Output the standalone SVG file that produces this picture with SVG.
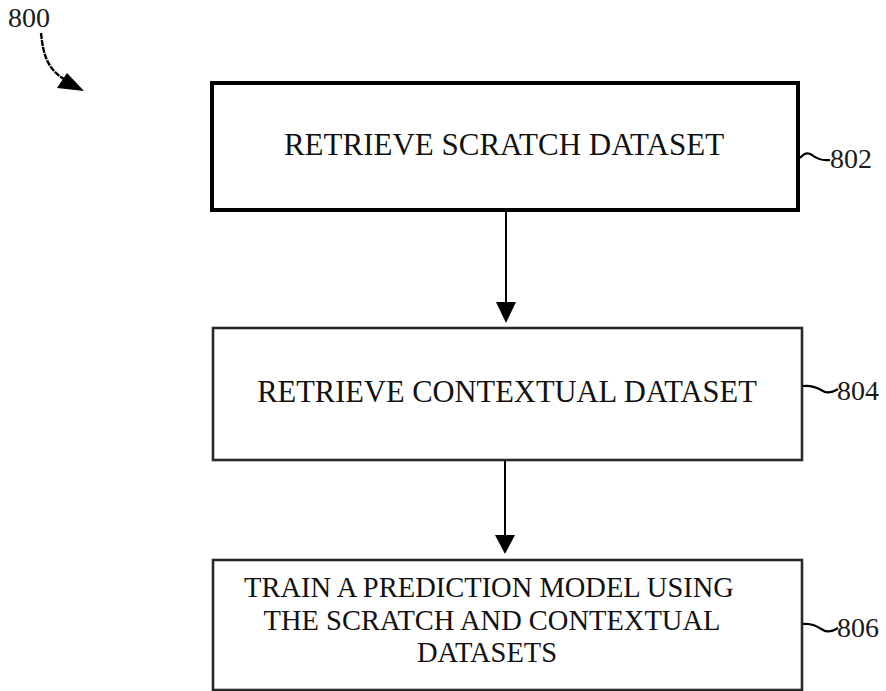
<svg xmlns="http://www.w3.org/2000/svg" width="886" height="691" viewBox="0 0 886 691">
<style>
.box{fill:#fff;stroke:#2a2a2a;stroke-width:2.6}
.box1{fill:#fff;stroke:#000;stroke-width:4}
.t{font-family:"Liberation Serif","Times New Roman",serif;fill:#111;text-anchor:middle}
.lbl{font-family:"Liberation Serif","Times New Roman",serif;fill:#1a1a1a;font-size:28px}
.conn{stroke:#000;stroke-width:2;fill:none}
.tilde{stroke:#000;stroke-width:2.2;fill:none}
</style>
<rect width="886" height="691" fill="#fff"/>
<g id="label-800">
<text class="lbl" x="8" y="27">800</text>
<path d="M41,33 C43,52 46,68 64,79" stroke="#000" stroke-width="2.4" fill="none" stroke-dasharray="6,1"/>
<path d="M57,88 L67,73 L84,91 z" fill="#000"/>
</g>
<g id="node-802">
<rect class="box1" x="212" y="83" width="586" height="127"/>
<text class="t" x="504" y="155" font-size="31">RETRIEVE SCRATCH DATASET</text>
<path class="tilde" d="M800,158 C804,153 808,152 812,155 C817,159 822,161 830,160"/>
<text class="lbl" x="830" y="168">802</text>
</g>
<g id="node-804">
<rect class="box" x="213" y="328" width="589" height="132"/>
<text class="t" x="507" y="402" font-size="30.5">RETRIEVE CONTEXTUAL DATASET</text>
<path class="tilde" d="M803,386 C812,385 818,388 823,391 C828,394 833,392 838,389"/>
<text class="lbl" x="837" y="400">804</text>
</g>
<g id="node-806">
<rect class="box" x="213" y="560" width="589" height="130"/>
<text class="t" x="489" y="597" font-size="28.5">TRAIN A PREDICTION MODEL USING</text>
<text class="t" x="492" y="630" font-size="28.5">THE SCRATCH AND CONTEXTUAL</text>
<text class="t" x="487" y="662" font-size="28.5">DATASETS</text>
<path class="tilde" d="M803,624 C812,623 818,627 823,630 C828,633 833,631 838,628"/>
<text class="lbl" x="837" y="637">806</text>
</g>
<g id="connectors">
<line class="conn" x1="506" y1="212" x2="506" y2="304"/>
<path d="M496,302 L516,302 L506,323 z" fill="#000"/>
<line class="conn" x1="505" y1="461" x2="505" y2="537"/>
<path d="M495,535 L515,535 L505,554 z" fill="#000"/>
</g>
</svg>
